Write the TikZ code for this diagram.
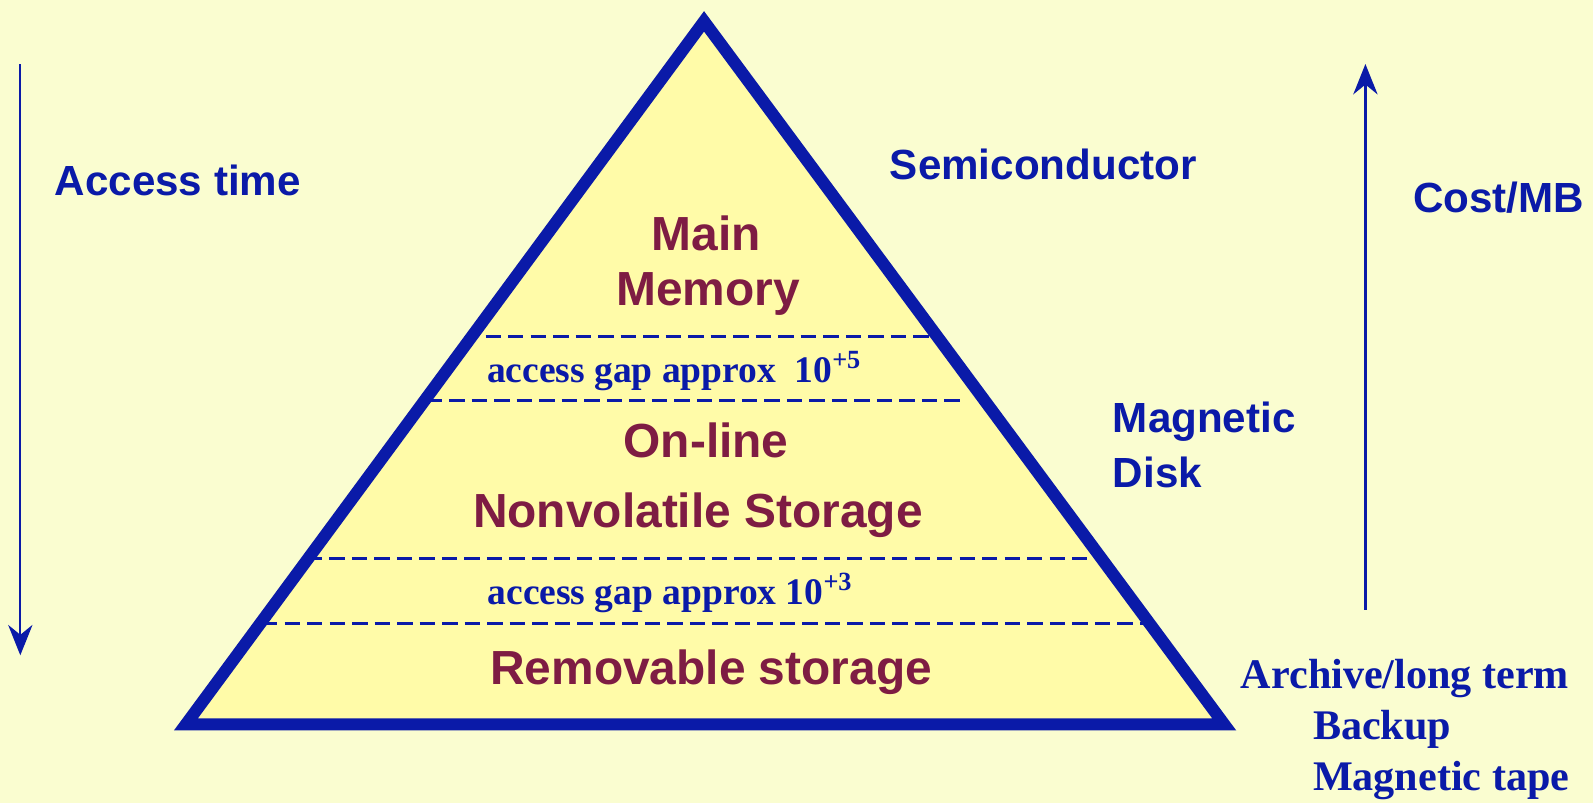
\documentclass[tikz,border=0pt]{standalone}
\usepackage{fontspec}
\setmainfont{Liberation Serif}
\setsansfont{Liberation Sans}
\usetikzlibrary{arrows.meta}
\definecolor{bgyellow}{RGB}{250,253,208}
\definecolor{pyrfill}{RGB}{255,251,168}
\definecolor{hblue}{RGB}{10,26,168}
\definecolor{hmaroon}{RGB}{126,28,67}
\tikzset{
	level/.style={font=\sffamily\bfseries\fontsize{13.4}{16}\selectfont, text=hmaroon},
	side/.style={font=\sffamily\bfseries\fontsize{11.8}{14}\selectfont, text=hblue},
	gap/.style={font=\rmfamily\bfseries\fontsize{10.5}{12}\selectfont, text=hblue},
	tapes/.style={font=\rmfamily\bfseries\fontsize{11.8}{14}\selectfont, text=hblue},
	sep/.style={draw=hblue, line width=0.75pt, dash pattern=on 4.3pt off 2pt},
	axis/.style={draw=hblue, line width=0.6pt, -{Stealth[length=8.5pt, width=6.8pt]}}
}
\begin{document}
\begin{tikzpicture}[x=0.01cm, y=-0.01cm]
	\fill[bgyellow] (0,0) rectangle (1568,790);
	\useasboundingbox (0,0) rectangle (1568,790);
	% the pyramid
	\filldraw[fill=pyrfill, draw=hblue, line width=3.4pt, line join=miter]
		(693,21) coordinate (apex) -- (183,713) coordinate (bl) -- (1205,713) coordinate (br) -- cycle;
	\draw[sep] (478,331) -- (915,331);
	\draw[sep] (420,394) -- (950,394);
	\draw[sep] (302,550) -- (1075,550);
	\draw[sep] (258,614) -- (1125,614);
	% levels
	\node[level] (main) at (695,230) {Main};
	\node[level] (memory) at (697,289) {Memory};
	\node[gap] (gap5) at (664,365) {access gap approx\ \ 10\textsuperscript{+5}};
	\node[level] (online) at (695,433) {On-line};
	\node[level] (nonvol) at (687,507) {Nonvolatile Storage};
	\node[gap] (gap3) at (660,584) {access gap approx 10\textsuperscript{+3}};
	\node[level] (removable) at (700,662) {Removable storage};
	% side labels
	\node[side] (access) at (175,178) {Access time};
	\node[side] (semi) at (1027,162) {Semiconductor};
	\node[side, anchor=west] (magnetic) at (1083,415) {Magnetic};
	\node[side, anchor=west] (disk) at (1083,465) {Disk};
	\node[side] (cost) at (1475,195) {Cost/MB};
	\node[tapes, anchor=west] (archive) at (1209,668) {Archive/long term};
	\node[tapes, anchor=west] (backup) at (1280,718) {Backup};
	\node[tapes, anchor=west] (tape) at (1280,768) {Magnetic tape};
	% axes
	\coordinate (tstart) at (20,63);
	\coordinate (tend) at (20,645);
	\coordinate (cstart) at (1344,600);
	\coordinate (cend) at (1344,63);
	\draw[axis] (tstart) -- (tend);
	\draw[axis] (cstart) -- (cend);
\end{tikzpicture}
\end{document}
